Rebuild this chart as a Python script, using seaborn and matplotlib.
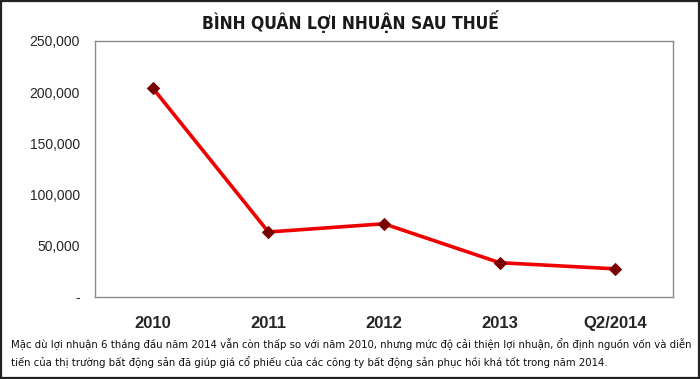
import matplotlib
matplotlib.use('Agg')
from matplotlib import pyplot as plt
from matplotlib.patches import Rectangle
from matplotlib.ticker import FuncFormatter
import pandas as pd
import seaborn as sns

# du lieu doc tu hinh
periods = ['2010', '2011', '2012', '2013', 'Q2/2014']
profit = [204000, 63500, 71500, 33500, 27500]
y_ticks = [0, 50000, 100000, 150000, 200000, 250000]

title = 'BÌNH QUÂN LỢI NHUẬN SAU THUẾ'
caption = ('Mặc dù lợi nhuận 6 tháng đầu năm 2014 vẫn còn thấp so với năm 2010, nhưng mức độ cải thiện lợi nhuận, ổn định nguồn vốn và diễn\n'
           'tiến của thị trường bất động sản đã giúp giá cổ phiếu của các công ty bất động sản phục hồi khá tốt trong năm 2014.')

df = pd.DataFrame({'period': periods, 'profit': profit})

sns.set_style('white')
plt.rcParams['font.family'] = ['Liberation Sans', 'DejaVu Sans']

fig = plt.figure(figsize=(7, 3.79), dpi=100)
ax = fig.add_axes([95 / 700, 1 - 297 / 379, 578 / 700, 256 / 379])

sns.lineplot(data=df, x='period', y='profit', ax=ax, color='#ee0000', linewidth=2.6,
             marker='D', markersize=6, markerfacecolor='#7a0000', markeredgecolor='#7a0000', sort=False)

ax.set_xlim(-0.5, len(periods) - 0.5)
ax.set_ylim(0, 250000)
ax.set_yticks(y_ticks)
ax.yaxis.set_major_formatter(FuncFormatter(lambda v, p: '-' if v == 0 else f'{int(v):,}'))
ax.set_xlabel('')
ax.set_ylabel('')

# nhan truc x
ax.set_xticks(range(len(periods)))
ax.set_xticklabels(periods, fontsize=12, fontweight='bold')
ax.tick_params(axis='x', which='major', length=0, pad=14)
ax.set_xticks([i - 0.5 for i in range(len(periods) + 1)], minor=True)
ax.tick_params(axis='x', which='minor', length=5, color='#808080', width=0.8)
ax.tick_params(axis='y', length=5, color='#808080', width=0.8, labelsize=10, pad=6)

for s in ax.spines.values():
    s.set_color('#8c8c8c')
    s.set_linewidth(1.0)

fig.text(0.5, 1 - 29 / 379, title, ha='center', va='baseline', fontsize=12.5, fontweight='bold',
         family=['DejaVu Sans'], stretch='condensed', color='#1a1a1a')
fig.text(11 / 700, 1 - 353 / 379, caption, ha='left', va='center', fontsize=8.1,
         family=['DejaVu Sans'], stretch='condensed', linespacing=1.6, color='#111111')

fig.patches.append(Rectangle((0.002, 0.003), 0.996, 0.994, transform=fig.transFigure,
                             fill=False, edgecolor='#222222', linewidth=1.6))

fig.savefig('out.png', dpi=100)
